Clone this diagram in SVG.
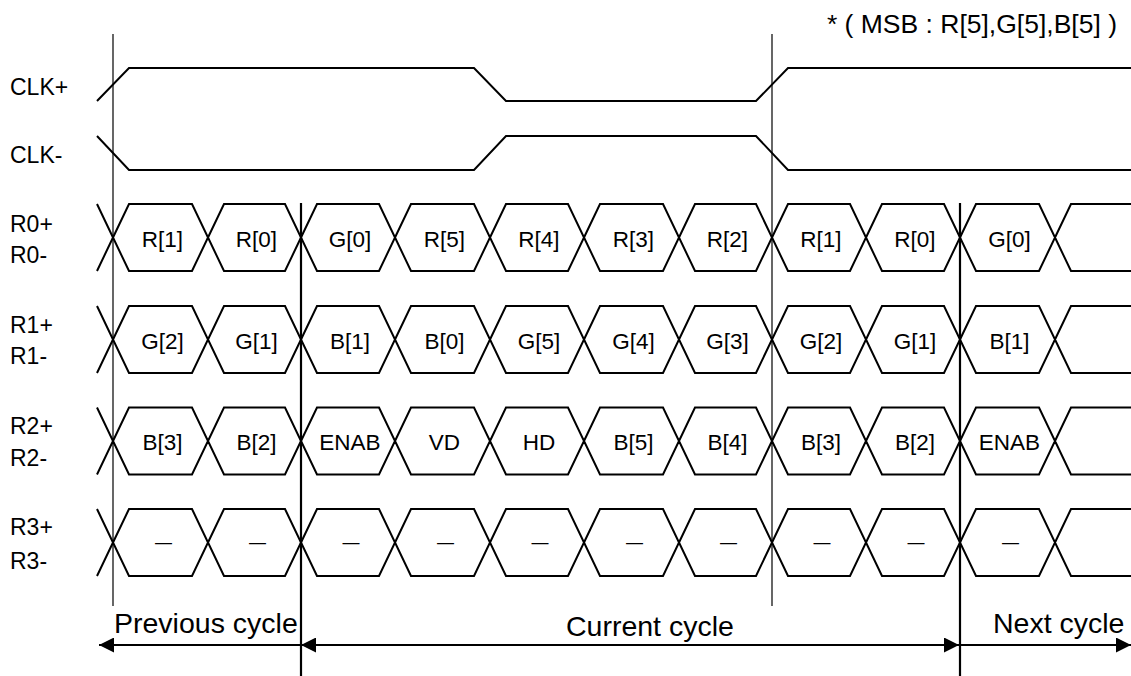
<svg xmlns="http://www.w3.org/2000/svg" width="1131" height="676" viewBox="0 0 1131 676">
<defs>
<style>
.sig{fill:none;stroke:#000;stroke-width:2;stroke-linejoin:miter}
.thin{stroke:#000;stroke-width:1.2}
.thick{stroke:#000;stroke-width:2.2}
.arr{stroke:#000;stroke-width:2;fill:none}
.lbl{font-family:"Liberation Sans",Arial,sans-serif;font-size:23px;fill:#000}
.note{font-family:"Liberation Sans",Arial,sans-serif;font-size:26.5px;fill:#000;text-anchor:end}
.hl{font-family:"Liberation Sans",Arial,sans-serif;font-size:22.5px;fill:#000;text-anchor:middle}
.dash{font-family:"Liberation Sans",Arial,sans-serif;font-size:17px;fill:#000;text-anchor:middle}
.cyc{font-family:"Liberation Sans",Arial,sans-serif;font-size:28.5px;fill:#000}
</style>
<marker id="ah" viewBox="0 0 15 15" refX="15" refY="7.5" markerWidth="15" markerHeight="15" markerUnits="userSpaceOnUse" orient="auto-start-reverse">
<path d="M0,0 L15,7.5 L0,15 Z" fill="#000"/>
</marker>
</defs>
<rect width="1131" height="676" fill="#fff"/>

<text id="note" class="note" x="1117" y="33">* ( MSB : R[5],G[5],B[5] )</text>

<g id="guides">
<line class="thin" x1="113" y1="34" x2="113" y2="606"/>
<line class="thin" x1="772" y1="34" x2="772" y2="606"/>
<line class="thick" x1="301" y1="203" x2="301" y2="676"/>
<line class="thick" x1="960" y1="203" x2="960" y2="676"/>
</g>

<g id="clk-plus">
<text class="lbl" x="10" y="95">CLK+</text>
<path class="sig" d="M97,101 L129,68 L474,68 L506,101 L756,101 L788,68 L1131,68"/>
</g>
<g id="clk-minus">
<text class="lbl" x="10" y="163">CLK-</text>
<path class="sig" d="M97,136 L129,170 L474,170 L506,136 L756,136 L788,170 L1131,170"/>
</g>

<g id="lane-r0">
<text class="lbl" x="10" y="232">R0+</text>
<text class="lbl" x="10" y="263">R0-</text>
<path class="sig" d="M97,204 L113,237.5 L97,271 M113,237.5 L129,204 L192,204 L208,237.5 L192,271 L129,271 Z M208,237.5 L224,204 L285,204 L301,237.5 L285,271 L224,271 Z M301,237.5 L317,204 L379,204 L395,237.5 L379,271 L317,271 Z M395,237.5 L411,204 L474,204 L490,237.5 L474,271 L411,271 Z M490,237.5 L506,204 L568,204 L584,237.5 L568,271 L506,271 Z M584,237.5 L600,204 L663,204 L679,237.5 L663,271 L600,271 Z M679,237.5 L695,204 L756,204 L772,237.5 L756,271 L695,271 Z M772,237.5 L788,204 L850,204 L866,237.5 L850,271 L788,271 Z M866,237.5 L882,204 L944,204 L960,237.5 L944,271 L882,271 Z M960,237.5 L976,204 L1039,204 L1055,237.5 L1039,271 L976,271 Z M1055,237.5 L1071,204 L1132,204 M1055,237.5 L1071,271 L1132,271"/>
<text class="hl" x="162.5" y="246.5">R[1]</text>
<text class="hl" x="256.5" y="246.5">R[0]</text>
<text class="hl" x="350" y="246.5">G[0]</text>
<text class="hl" x="444.5" y="246.5">R[5]</text>
<text class="hl" x="539" y="246.5">R[4]</text>
<text class="hl" x="633.5" y="246.5">R[3]</text>
<text class="hl" x="727.5" y="246.5">R[2]</text>
<text class="hl" x="821" y="246.5">R[1]</text>
<text class="hl" x="915" y="246.5">R[0]</text>
<text class="hl" x="1009.5" y="246.5">G[0]</text>
</g>

<g id="lane-r1">
<text class="lbl" x="10" y="333">R1+</text>
<text class="lbl" x="10" y="364">R1-</text>
<path class="sig" d="M97,306 L113,339.5 L97,373 M113,339.5 L129,306 L192,306 L208,339.5 L192,373 L129,373 Z M208,339.5 L224,306 L285,306 L301,339.5 L285,373 L224,373 Z M301,339.5 L317,306 L379,306 L395,339.5 L379,373 L317,373 Z M395,339.5 L411,306 L474,306 L490,339.5 L474,373 L411,373 Z M490,339.5 L506,306 L568,306 L584,339.5 L568,373 L506,373 Z M584,339.5 L600,306 L663,306 L679,339.5 L663,373 L600,373 Z M679,339.5 L695,306 L756,306 L772,339.5 L756,373 L695,373 Z M772,339.5 L788,306 L850,306 L866,339.5 L850,373 L788,373 Z M866,339.5 L882,306 L944,306 L960,339.5 L944,373 L882,373 Z M960,339.5 L976,306 L1039,306 L1055,339.5 L1039,373 L976,373 Z M1055,339.5 L1071,306 L1132,306 M1055,339.5 L1071,373 L1132,373"/>
<text class="hl" x="162.5" y="348.5">G[2]</text>
<text class="hl" x="256.5" y="348.5">G[1]</text>
<text class="hl" x="350" y="348.5">B[1]</text>
<text class="hl" x="444.5" y="348.5">B[0]</text>
<text class="hl" x="539" y="348.5">G[5]</text>
<text class="hl" x="633.5" y="348.5">G[4]</text>
<text class="hl" x="727.5" y="348.5">G[3]</text>
<text class="hl" x="821" y="348.5">G[2]</text>
<text class="hl" x="915" y="348.5">G[1]</text>
<text class="hl" x="1009.5" y="348.5">B[1]</text>
</g>

<g id="lane-r2">
<text class="lbl" x="10" y="434">R2+</text>
<text class="lbl" x="10" y="466">R2-</text>
<path class="sig" d="M97,407.5 L113,441 L97,474.5 M113,441 L129,407.5 L192,407.5 L208,441 L192,474.5 L129,474.5 Z M208,441 L224,407.5 L285,407.5 L301,441 L285,474.5 L224,474.5 Z M301,441 L317,407.5 L379,407.5 L395,441 L379,474.5 L317,474.5 Z M395,441 L411,407.5 L474,407.5 L490,441 L474,474.5 L411,474.5 Z M490,441 L506,407.5 L568,407.5 L584,441 L568,474.5 L506,474.5 Z M584,441 L600,407.5 L663,407.5 L679,441 L663,474.5 L600,474.5 Z M679,441 L695,407.5 L756,407.5 L772,441 L756,474.5 L695,474.5 Z M772,441 L788,407.5 L850,407.5 L866,441 L850,474.5 L788,474.5 Z M866,441 L882,407.5 L944,407.5 L960,441 L944,474.5 L882,474.5 Z M960,441 L976,407.5 L1039,407.5 L1055,441 L1039,474.5 L976,474.5 Z M1055,441 L1071,407.5 L1132,407.5 M1055,441 L1071,474.5 L1132,474.5"/>
<text class="hl" x="162.5" y="450">B[3]</text>
<text class="hl" x="256.5" y="450">B[2]</text>
<text class="hl" x="350" y="450">ENAB</text>
<text class="hl" x="444.5" y="450">VD</text>
<text class="hl" x="539" y="450">HD</text>
<text class="hl" x="633.5" y="450">B[5]</text>
<text class="hl" x="727.5" y="450">B[4]</text>
<text class="hl" x="821" y="450">B[3]</text>
<text class="hl" x="915" y="450">B[2]</text>
<text class="hl" x="1009.5" y="450">ENAB</text>
</g>

<g id="lane-r3">
<text class="lbl" x="10" y="535">R3+</text>
<text class="lbl" x="10" y="569">R3-</text>
<path class="sig" d="M97,509 L113,542.5 L97,576 M113,542.5 L129,509 L192,509 L208,542.5 L192,576 L129,576 Z M208,542.5 L224,509 L285,509 L301,542.5 L285,576 L224,576 Z M301,542.5 L317,509 L379,509 L395,542.5 L379,576 L317,576 Z M395,542.5 L411,509 L474,509 L490,542.5 L474,576 L411,576 Z M490,542.5 L506,509 L568,509 L584,542.5 L568,576 L506,576 Z M584,542.5 L600,509 L663,509 L679,542.5 L663,576 L600,576 Z M679,542.5 L695,509 L756,509 L772,542.5 L756,576 L695,576 Z M772,542.5 L788,509 L850,509 L866,542.5 L850,576 L788,576 Z M866,542.5 L882,509 L944,509 L960,542.5 L944,576 L882,576 Z M960,542.5 L976,509 L1039,509 L1055,542.5 L1039,576 L976,576 Z M1055,542.5 L1071,509 L1132,509 M1055,542.5 L1071,576 L1132,576"/>
<text class="dash" x="163.5" y="548">—</text>
<text class="dash" x="257.5" y="548">—</text>
<text class="dash" x="351" y="548">—</text>
<text class="dash" x="445.5" y="548">—</text>
<text class="dash" x="540" y="548">—</text>
<text class="dash" x="634.5" y="548">—</text>
<text class="dash" x="728.5" y="548">—</text>
<text class="dash" x="822" y="548">—</text>
<text class="dash" x="916" y="548">—</text>
<text class="dash" x="1010.5" y="548">—</text>
</g>

<g id="cycles">
<text class="cyc" x="114" y="633">Previous cycle</text>
<text class="cyc" x="566" y="636">Current cycle</text>
<text class="cyc" x="993" y="633">Next cycle</text>
</g>

<g id="connectors">
<line class="arr" x1="301" y1="645" x2="99" y2="645" marker-end="url(#ah)"/>
<line class="arr" x1="301" y1="645" x2="959" y2="645" marker-start="url(#ah)" marker-end="url(#ah)"/>
<line class="arr" x1="960" y1="645" x2="1131" y2="645" marker-end="url(#ah)"/>
</g>
</svg>
